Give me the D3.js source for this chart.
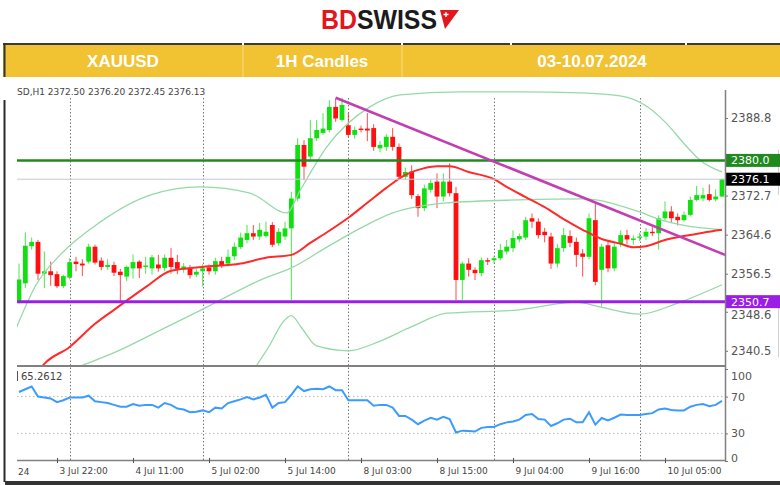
<!DOCTYPE html>
<html><head><meta charset="utf-8">
<script src="https://cdn.jsdelivr.net/npm/d3@7"></script>
<style>body{margin:0;background:#fff}svg{display:block}</style>
</head><body>
<svg id="c" width="780" height="485"></svg>
<script>
// ---------- DATA ----------
const days = [["3 Jul",16,23],["4 Jul",1,21],["5 Jul",1,23],["8 Jul",1,23],["9 Jul",1,23],["10 Jul",1,14]];
const timeTicks = ["3 Jul 22:00","4 Jul 11:00","5 Jul 02:00","5 Jul 14:00","8 Jul 03:00","8 Jul 15:00","9 Jul 04:00","9 Jul 16:00","10 Jul 05:00"];
const priceTicks = [2388.8, 2372.7, 2364.6, 2356.5, 2348.6, 2340.5];
const rsiTicks = [100, 70, 30, 0];

const open = [2350.8,2354.5,2362.2,2363.1,2356.5,2357.0,2356.4,2353.9,2355.7,2359.0,
2358.6,2359.0,2362.1,2359.2,2357.9,2358.3,2356.9,2355.9,2357.6,2359.0,
2357.9,2357.6,2358.4,2357.7,2359.8,2358.9,2357.4,2357.7,2356.3,2357.0,
2357.8,2357.0,2359.1,2358.6,2360.1,2362.0,2363.5,2364.9,2364.2,2364.3,
2366.6,2362.8,2364.2,2365.9,2372.1,2383.2,2380.8,2384.6,2385.7,2386.3,
2391.1,2388.4,2387.3,2385.3,2386.6,2386.6,2386.7,2382.5,2382.8,2384.9,
2382.8,2376.6,2377.7,2372.6,2370.1,2373.9,2375.6,2372.5,2375.6,2373.2,
2355.2,2358.6,2357.3,2356.6,2359.3,2359.3,2359.7,2361.1,2361.8,2363.6,
2364.0,2368.0,2367.3,2365.2,2364.2,2358.6,2361.8,2364.3,2363.1,2360.7,
2360.0,2367.6,2357.3,2362.4,2357.6,2362.8,2364.5,2363.5,2364.0,2364.2,
2365.2,2364.9,2368.0,2369.4,2368.3,2367.6,2368.7,2371.8,2372.1,2373.0,2371.9,2372.50];
const high = [2358.6,2365.1,2364.0,2363.5,2361.1,2359.0,2357.0,2356.3,2359.7,2360.0,
2359.5,2362.7,2362.5,2359.9,2359.5,2359.0,2357.5,2358.2,2360.5,2359.3,
2360.0,2360.4,2360.4,2360.5,2361.8,2360.4,2358.7,2358.3,2357.5,2358.5,
2358.4,2359.8,2360.0,2361.5,2363.0,2365.0,2366.6,2366.6,2367.0,2367.3,
2367.2,2366.0,2367.3,2373.5,2384.6,2384.2,2388.4,2388.4,2389.8,2392.5,
2392.9,2393.0,2389.8,2387.0,2387.2,2389.8,2387.5,2384.0,2385.5,2386.7,
2383.5,2378.5,2379.0,2373.0,2375.0,2376.0,2377.3,2377.3,2379.4,2374.5,
2359.0,2359.7,2357.8,2359.9,2359.8,2360.2,2362.7,2363.5,2365.5,2364.8,
2368.3,2369.0,2368.0,2366.0,2365.0,2362.7,2366.0,2365.5,2364.0,2361.6,
2369.0,2371.1,2362.7,2363.5,2363.0,2365.5,2365.6,2364.5,2365.0,2366.0,
2366.2,2368.6,2371.5,2370.5,2369.0,2369.4,2372.5,2374.7,2374.3,2375.0,2374.0,2376.20];
const low = [2350.3,2353.5,2361.5,2355.2,2353.5,2354.0,2353.5,2353.5,2355.3,2357.0,
2356.0,2358.6,2358.4,2357.2,2357.3,2356.0,2350.7,2355.0,2355.5,2355.6,
2356.5,2356.3,2356.9,2357.0,2356.5,2356.4,2356.7,2355.5,2355.8,2353.8,
2356.3,2356.3,2357.7,2358.0,2359.3,2361.6,2362.8,2363.5,2363.5,2364.0,
2362.0,2362.3,2363.5,2351.0,2371.5,2375.9,2380.0,2384.0,2385.3,2385.8,
2388.0,2388.0,2384.9,2384.5,2385.8,2384.0,2382.0,2381.7,2382.0,2382.0,
2376.0,2376.0,2372.0,2368.3,2369.5,2373.3,2370.1,2371.5,2372.5,2351.0,
2351.0,2355.9,2355.2,2356.0,2358.3,2358.6,2359.3,2360.5,2361.0,2363.0,
2363.5,2366.0,2363.8,2363.0,2357.5,2357.8,2361.0,2362.0,2357.9,2355.9,
2359.5,2354.1,2349.7,2356.8,2357.0,2362.0,2362.7,2362.5,2363.3,2363.5,
2364.3,2361.5,2367.5,2367.0,2366.5,2367.3,2368.4,2371.5,2371.5,2371.5,2371.5,2372.45];
const close = [2355.3,2362.3,2363.1,2356.5,2357.0,2356.2,2353.9,2356.0,2358.9,2358.5,
2358.2,2362.1,2358.8,2357.9,2358.3,2356.7,2356.2,2357.9,2358.9,2357.6,
2358.2,2359.9,2357.6,2359.8,2357.9,2357.5,2358.0,2356.2,2356.9,2357.6,
2357.0,2359.1,2358.2,2360.0,2362.1,2364.0,2364.9,2364.2,2365.6,2365.2,
2362.5,2365.2,2365.9,2372.1,2383.2,2378.7,2384.6,2386.3,2386.6,2391.1,
2388.7,2391.5,2385.3,2386.3,2386.3,2386.2,2382.8,2383.2,2384.9,2382.8,
2376.6,2377.6,2372.8,2370.1,2374.2,2375.3,2372.5,2375.6,2373.2,2355.2,
2358.6,2357.3,2356.6,2359.3,2359.0,2359.7,2361.4,2362.1,2363.9,2364.3,
2367.6,2367.3,2364.5,2364.5,2358.6,2361.8,2364.5,2362.9,2360.4,2360.0,
2368.0,2354.8,2362.1,2357.6,2362.1,2364.5,2363.6,2363.8,2364.2,2365.2,
2364.9,2368.0,2369.4,2368.0,2367.6,2368.7,2371.8,2372.8,2372.8,2371.8,2372.5,2376.13];

const rsi = [75,78,81,70,69,68,64,66,69,69,
69,71,65,64,63,61,59,59,62,60,
61,61,58,63,61,57,56,53,53.5,55,
53,58,57,63,65,67,69.5,67,69,72,
58,63,64,72,81,76,78,78.5,78,81,
77,77,66,66,66,66,60,61,61,58,
49,49,45,40,44,47,45,48,45.5,31,
33,32.5,32,36,37,37,40,42,43,45,
50,51,45.6,45,38,41,45,46,42,42,
53,39.5,46.7,44,47,50.5,50,50,50,51,
52,56,57,55.5,55,55,59,61,62,59.6,61,65.26];

// overlay readings: [bar index, price]
const maRed = [[2,2334.4],[4,2337.8],[8,2341.3],[12,2346.1],[15,2349.0],[17,2350.9],[20,2353.7],[24,2357.1],[29,2357.9],[35,2358.6],[39,2359.8],[43,2360.4],[46,2362.9],[49,2365.4],[52,2368.1],[55,2371.2],[58,2374.3],[61,2377.0],[64,2378.4],[66,2378.8],[68,2378.8],[71,2377.6],[75,2376.1],[77,2374.5],[80,2372.4],[83,2370.3],[86,2367.8],[89,2365.6],[92,2363.7],[95,2362.7],[97,2362.0],[99,2362.2],[102,2363.5],[105,2364.3],[108,2365.0],[111,2365.6]];
const bbUpper = [[-0.5,2345.0],[2.7,2354.2],[6.5,2360.4],[12.8,2367.2],[20.7,2372.8],[28.6,2374.5],[36.5,2373.2],[42.3,2369.1],[44.4,2373.8],[48.6,2382.8],[55.4,2391.1],[60.2,2393.6],[69.6,2394.2],[79,2394.2],[88.6,2394.0],[94.9,2393.4],[98.8,2391.5],[102,2388.0],[105.2,2383.2],[107.5,2380.1],[111,2377.6]];
const bbMiddle = [[8,2336.5],[16,2340.7],[22,2344.6],[28.8,2349.0],[38.8,2355.6],[43,2357.7],[48.6,2362.0],[54,2366.0],[59,2369.1],[67.6,2371.2],[79,2371.8],[89,2372.0],[98,2369.3],[101,2367.8],[105,2366.5],[111,2365.6]];
const bbLower = [[36.5,2335.5],[39.6,2341.7],[41.7,2346.5],[43,2347.8],[44.5,2345.5],[47,2341.5],[52,2340.5],[57,2342.5],[62,2345.5],[67.6,2348.3],[79,2349.0],[88,2350.6],[91.7,2349.6],[98,2348.1],[104,2350.4],[111,2354.2]];
const trendLine = [[50,2393.0],[111.5,2360.4]];
const levels = [{v:2380.0,label:"2380.0",color:"#1f8b1f",box:"#1f8b1f",w:2.5},
                {v:2376.1,label:"2376.1",color:"#c4c4d8",box:"#000000",w:1},
                {v:2350.7,label:"2350.7",color:"#9a1ee6",box:"#9a1ee6",w:3}];
const infoText = "SD,H1  2372.50 2376.20 2372.45 2376.13";
const rsiLabel = "65.2612";

// ---------- BUILD ----------
const barLabels = [];
days.forEach(([d,h0,h1]) => { for (let h=h0; h<=h1; h++) barLabels.push(d+" "+String(h).padStart(2,"0")+":00"); });
const N = barLabels.length;
const bars = d3.range(N).map(i => ({i, o:open[i], h:high[i], l:low[i], c:close[i], lab:barLabels[i]}));
const daySep = bars.filter((b,k)=> k>0 && b.lab.split(" ")[0] !== barLabels[k-1].split(" ")[0]).map(b=>b.i);

const svg = d3.select("#c");
const FONT = "DejaVu Sans, Verdana, sans-serif";

// header
svg.append("rect").attr("x",3).attr("y",44).attr("width",777).attr("height",33).attr("fill","#f1c232");
svg.append("line").attr("x1",3).attr("x2",780).attr("y1",44).attr("y2",44).attr("stroke","#3a3a3a").attr("stroke-width",2);
[243,402,511,686].forEach(xx=>svg.append("rect").attr("x",xx-1).attr("y",42).attr("width",2).attr("height",3).attr("fill","#fff"));
[243,402].forEach(xx=>svg.append("line").attr("x1",xx).attr("x2",xx).attr("y1",45).attr("y2",77).attr("stroke","#f7dc86").attr("stroke-width",1));
svg.append("line").attr("x1",4.5).attr("x2",4.5).attr("y1",43).attr("y2",77).attr("stroke","#333").attr("stroke-width",2);
const hdr = [["XAUUSD",123],["1H Candles",322],["03-10.07.2024",592]];
svg.selectAll("text.hdr").data(hdr).join("text").attr("class","hdr")
  .attr("x",d=>d[1]).attr("y",67).attr("text-anchor","middle").attr("fill","#fff")
  .attr("font-family","Liberation Sans, Arial, sans-serif").attr("font-weight","bold").attr("font-size",17).text(d=>d[0]);
// logo
const logo = svg.append("text").attr("x",321).attr("y",29).attr("font-family","Liberation Sans, Arial, sans-serif")
  .attr("font-weight","bold").attr("font-size",27).attr("textLength",116).attr("lengthAdjust","spacingAndGlyphs");
logo.append("tspan").attr("fill","#e3161d").text("BD");
logo.append("tspan").attr("fill","#1b1b1b").text("SWISS");
svg.append("polygon").attr("points","440,10 459,10 445,29").attr("fill","#e3161d");
svg.append("path").attr("d","M446,12 v5 M443.5,14.5 h5").attr("stroke","#fff").attr("stroke-width",1.3);

// frame decorations
svg.append("line").attr("x1",4.5).attr("x2",4.5).attr("y1",100).attr("y2",482).attr("stroke","#2b2b2b").attr("stroke-width",2);
svg.append("rect").attr("x",5).attr("y",481).attr("width",775).attr("height",4).attr("fill","#333");
[[150,195],[298,357]].forEach(([a,b])=>svg.append("line").attr("x1",778.5).attr("x2",778.5).attr("y1",a).attr("y2",b).attr("stroke","#d0d0d0"));

// scales
const x = d3.scaleLinear().domain([0, N-1]).range([19, 722]);
const y = d3.scaleLinear().domain([2337.35, 2395.02]).range([366, 88]);
const yr = d3.scaleLinear().domain([0,100]).range([461, 369]);
const L = 17, R = 725;

svg.append("defs").append("clipPath").attr("id","mainClip").append("rect").attr("x",L).attr("y",88).attr("width",R-L).attr("height",278);

// day separators
svg.selectAll("line.sep").data(daySep).join("line").attr("class","sep")
  .attr("x1",d=>Math.round(x(d))+0.5).attr("x2",d=>Math.round(x(d))+0.5).attr("y1",98).attr("y2",460)
  .attr("stroke","#777").attr("stroke-dasharray","1.5,2").attr("stroke-width",1);

const main = svg.append("g").attr("clip-path","url(#mainClip)");
const GREEN = "#10e010", RED = "#ff1010";
main.selectAll("line.wick").data(bars).join("line").attr("class","wick")
  .attr("x1",d=>x(d.i)).attr("x2",d=>x(d.i)).attr("y1",d=>y(d.h)).attr("y2",d=>y(d.l))
  .attr("stroke",d=>d.c>=d.o?GREEN:RED).attr("stroke-width",1).attr("opacity",0.75);
main.selectAll("rect.body").data(bars).join("rect").attr("class","body")
  .attr("x",d=>x(d.i)-2.4).attr("width",4.8)
  .attr("y",d=>y(Math.max(d.o,d.c))).attr("height",d=>Math.max(1.2, Math.abs(y(d.o)-y(d.c))))
  .attr("fill",d=>d.c>=d.o?GREEN:RED);

const ln = d3.line().x(d=>x(d[0])).y(d=>y(d[1])).curve(d3.curveMonotoneX);
[bbUpper,bbMiddle,bbLower].forEach(s=>main.append("path").datum(s).attr("d",ln).attr("fill","none").attr("stroke","#95d9a8").attr("stroke-width",1.3));
main.append("path").datum(maRed).attr("d",ln).attr("fill","none").attr("stroke","#ff2a2a").attr("stroke-width",2);

// horizontal levels
main.selectAll("line.lvl").data(levels).join("line").attr("class","lvl")
  .attr("x1",L).attr("x2",R).attr("y1",d=>y(d.v)).attr("y2",d=>y(d.v)).attr("stroke",d=>d.color).attr("stroke-width",d=>d.w);
// trend line
main.append("path").datum(trendLine).attr("d",d3.line().x(d=>x(d[0])).y(d=>y(d[1]))).attr("stroke","#c23fb2").attr("stroke-width",2.6).attr("fill","none");

// price axis
const pa = svg.append("g").attr("transform",`translate(${R},0)`)
  .call(d3.axisRight(y).tickValues(priceTicks).tickFormat(d3.format(".1f")).tickSize(3).tickPadding(3));
pa.select(".domain").remove();
pa.selectAll("text").attr("font-family",FONT).attr("font-size",11.5).attr("fill","#555").attr("dy", d=> d===2348.6 ? "0.55em" : "0.32em");
pa.selectAll("line").attr("stroke","#777");
// level boxes
const lb = svg.selectAll("g.lb").data(levels).join("g").attr("class","lb").attr("transform",d=>`translate(${R+1},${y(d.v)})`);
lb.append("rect").attr("x",0).attr("y",-6.5).attr("width",56).attr("height",13).attr("fill",d=>d.box);
lb.append("text").attr("x",5).attr("y",4).attr("fill","#fff").attr("font-family",FONT).attr("font-size",11).text(d=>d.label);

// axis lines
svg.append("line").attr("x1",R+0.5).attr("x2",R+0.5).attr("y1",90).attr("y2",461).attr("stroke","#808080").attr("stroke-width",1.5);
svg.append("line").attr("x1",L).attr("x2",R).attr("y1",366).attr("y2",366).attr("stroke","#808080").attr("stroke-width",2);

// info text
svg.append("text").attr("x",17).attr("y",95).attr("font-family",FONT).attr("font-size",9).attr("fill","#444").text(infoText);

// RSI panel
svg.selectAll("line.rl").data([70,30]).join("line").attr("class","rl")
  .attr("x1",L).attr("x2",R).attr("y1",d=>yr(d)).attr("y2",d=>yr(d)).attr("stroke","#bbb").attr("stroke-dasharray","1.5,2.5");
svg.append("path").datum(rsi).attr("d",d3.line().x((d,i)=>x(i)).y(d=>yr(d))).attr("fill","none").attr("stroke","#3d9bff").attr("stroke-width",2);
svg.append("line").attr("x1",17.5).attr("x2",17.5).attr("y1",371).attr("y2",381).attr("stroke","#555");
svg.append("text").attr("x",21).attr("y",380).attr("font-family",FONT).attr("font-size",10).attr("fill","#444").text(rsiLabel);
const ra = svg.append("g").attr("transform",`translate(${R},0)`)
  .call(d3.axisRight(yr).tickValues(rsiTicks).tickSize(3).tickPadding(3));
ra.select(".domain").remove();
ra.selectAll("line").attr("stroke","#777");
ra.selectAll("text").attr("font-family",FONT).attr("font-size",11).attr("fill","#555")
  .attr("dy",d=> d===100?"0.95em": d===0?"0.05em":"0.32em");

// time axis
const tickIdx = timeTicks.map(t=>barLabels.indexOf(t));
const ta = svg.append("g").attr("transform","translate(0,460)")
  .call(d3.axisBottom(x).tickValues(tickIdx).tickFormat(i=>barLabels[i]).tickSize(4).tickSizeOuter(0));
ta.select(".domain").attr("d",`M${L},0.5H${R}`).attr("stroke","#808080").attr("stroke-width",1.5);
ta.selectAll(".tick line").attr("stroke","#555").attr("y1",-2).attr("y2",3);
ta.selectAll(".tick text").attr("text-anchor","start").attr("dx",2).attr("y",8)
  .attr("font-family",FONT).attr("font-size",9).attr("fill","#444");
svg.append("text").attr("x",18).attr("y",475).attr("font-family",FONT).attr("font-size",9).attr("fill","#444").text("24");
</script>
</body></html>
